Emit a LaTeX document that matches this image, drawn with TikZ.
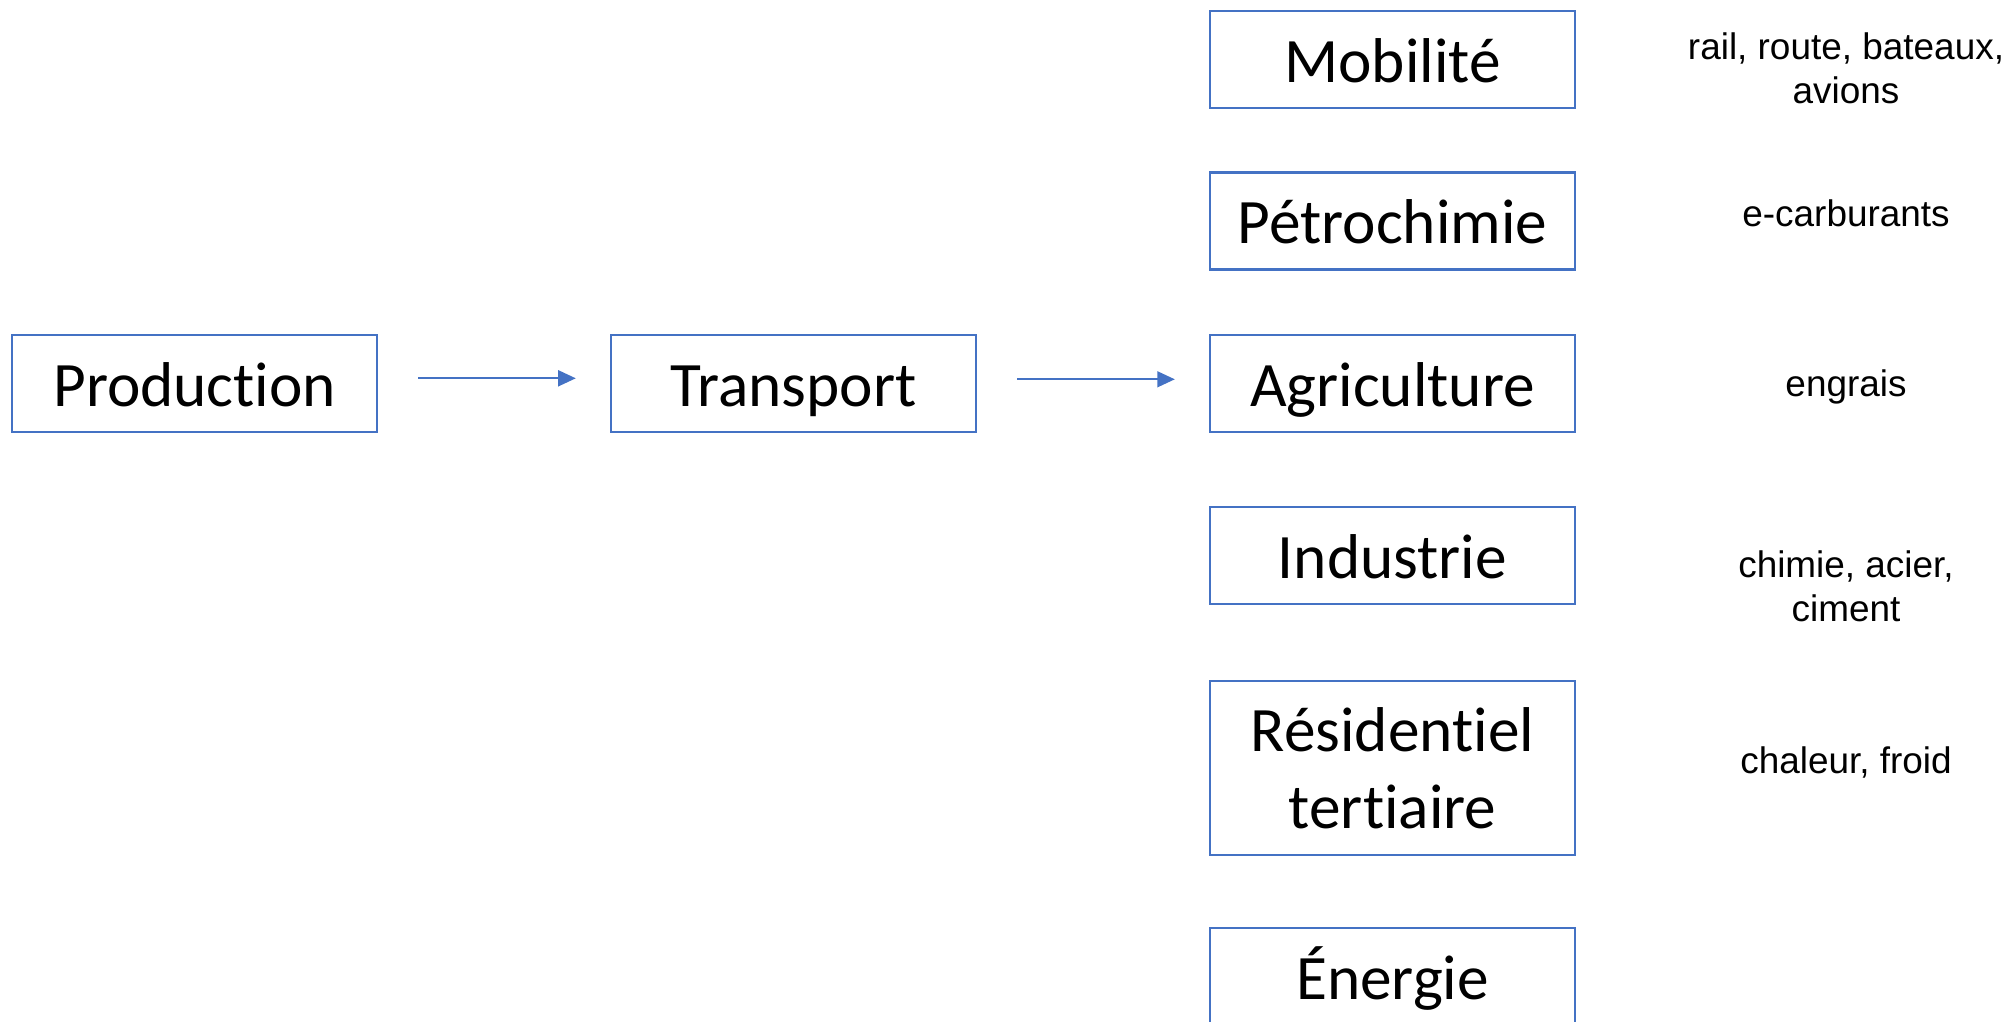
\documentclass[tikz,border=0pt]{standalone}
\usepackage{fontspec}
\setmainfont{Carlito}[Ligatures=CommonOff]
\newfontfamily\arialfont{Liberation Sans}
\usetikzlibrary{arrows.meta}
\definecolor{boxblue}{HTML}{4472C4}

\tikzset{
  sector/.style={draw=boxblue, line width=0.6pt, minimum width=3.65cm, minimum height=0.97cm,
    inner sep=0pt, text height=13pt, text depth=0pt, align=center,
    font=\fontsize{18}{21.9}\selectfont},
  usage/.style={align=center, font=\arialfont\fontsize{10.5}{12.6}\selectfont},
  flow/.style={draw=boxblue, line width=0.6pt, -{Triangle[length=5pt,width=4.5pt]},
    shorten <=0.4cm, shorten >=0.34cm}
}

\begin{document}
\begin{tikzpicture}[x=0.01cm, y=-0.01cm]
        \useasboundingbox (0,0) rectangle (2010,1021);

        % chain
        \node[sector] (prod) at (194.7,383.3) {Production};
        \node[sector] (trans) at (793.5,383.3) {Transport};

        % sectors
        \node[sector] (mob) at (1392.5,59.6) {Mobilité};
        \node[sector] (petro) at (1392.5,221) {Pétrochimie};
        \node[sector] (agri) at (1392.5,383.3) {Agriculture};
        \node[sector] (indus) at (1392.5,555.7) {Industrie};
        \node[sector, text height={}, text depth={}, minimum height=1.74cm] (resid) at (1392.5,767.8) {Résidentiel\\tertiaire};
        \node[sector] (ener) at (1392.5,976.5) {Énergie};

        % usages
        \node[usage] (mobuse) at (1846,68) {rail, route, bateaux,\\avions};
        \node[usage] (petrouse) at (1846,213) {e-carburants};
        \node[usage] (agriuse) at (1846,387) {engrais};
        \node[usage] (indususe) at (1846,586) {chimie, acier,\\ciment};
        \node[usage] (residuse) at (1846,762) {chaleur, froid};

        \draw[flow] ([yshift=0.05cm]prod.east) -- ([yshift=0.05cm]trans.west);
        \draw[flow] ([yshift=0.04cm]trans.east) -- ([yshift=0.04cm]agri.west);
\end{tikzpicture}
\end{document}
